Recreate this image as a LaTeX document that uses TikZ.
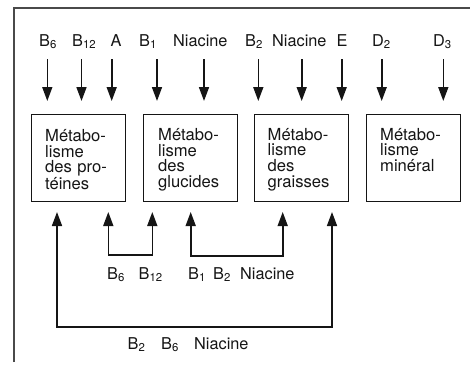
\documentclass[tikz,border=0pt]{standalone}
\usepackage{fontspec}
\setmainfont{TeX Gyre Heros}
\usetikzlibrary{arrows.meta}
\definecolor{ink}{HTML}{151515}
\definecolor{framec}{HTML}{4A4A4A}
\newcommand{\sbs}[1]{\textsubscript{#1}}
\begin{document}
\begin{tikzpicture}[x=1pt,y=-1pt,
  lab/.style={anchor=base west, inner sep=0pt, text=ink, font=\fontsize{16.3}{16}\selectfont},
  boxnode/.style={draw=ink, line width=1.3pt, minimum width=94pt, minimum height=87pt, anchor=north west, inner sep=0pt},
  boxtext/.style={anchor=base west, inner sep=0pt, text width=85pt, align=left, text=ink, font=\fontsize{16.6}{15.7}\selectfont},
  arr/.style={draw=ink, line width=1.6pt, -{Triangle[length=14pt,width=10pt]}},
  dbl/.style={draw=ink, line width=1.6pt, {Triangle[length=14pt,width=10pt]}-{Triangle[length=14pt,width=10pt]}}]
\useasboundingbox (0,0) rectangle (470,365);
% frame
\coordinate (fbl) at (14,362);
\coordinate (ftl) at (14,8);
\coordinate (ftr) at (470,8);
\draw[framec, line width=1.3pt] (fbl) -- (ftl) -- (ftr);
% top labels
\node[lab] (l1) at (39,46) {B\sbs{6}};
\node[lab] (l2) at (72,46) {B\sbs{12}};
\node[lab] (l3) at (110.5,46) {A};
\node[lab] (l4) at (139,46) {B\sbs{1}};
\node[lab] (l5) at (173,46) {Niacine};
\node[lab] (l6) at (245,46) {B\sbs{2}};
\node[lab] (l7) at (272,46) {Niacine};
\node[lab] (l8) at (336.5,46) {E};
\node[lab] (l9) at (372,46) {D\sbs{2}};
\node[lab] (l10) at (433,46) {D\sbs{3}};
% top arrows
\foreach \i/\x in {1/47.3,2/81.5,3/111.7,4/157,5/204,6/258.3,7/301.7,8/341.7,9/381.7,10/443.3}{
  \coordinate (ta\i) at (\x,59);
  \coordinate (tb\i) at (\x,101);
  \draw[arr] (ta\i) -- (tb\i);
}
% boxes
\node[boxnode] (b1) at (30.7,114) {};
\node[boxnode] (b2) at (142.5,114) {};
\node[boxnode] (b3) at (253.5,114) {};
\node[boxnode] (b4) at (365.5,114) {};
\node[boxtext] (t1) at (45,141.5) {Métabo-\\lisme\\des pro-\\téines};
\node[boxtext] (t2) at (158,140.5) {Métabo-\\lisme\\des\\glucides};
\node[boxtext] (t3) at (267.5,140) {Métabo-\\lisme\\des\\graisses};
\node[boxtext] (t4) at (380,140) {Métabo-\\lisme\\minéral};
% bottom arrows
\coordinate (u1) at (108.3,212);
\coordinate (u2) at (152.3,212);
\coordinate (u3) at (190.7,212);
\coordinate (u4) at (282.7,212);
\coordinate (u5) at (57,212);
\coordinate (u6) at (332,212);
\draw[dbl] (u1) -- ++(0,43) -| (u2);
\draw[dbl] (u3) -- ++(0,44) -| (u4);
\draw[dbl] (u5) -- ++(0,115) -| (u6);
% bottom labels
\node[lab] (m1) at (107,279) {B\sbs{6}};
\node[lab] (m2) at (138.5,279) {B\sbs{12}};
\node[lab] (m3) at (188,279) {B\sbs{1}};
\node[lab] (m4) at (213,279) {B\sbs{2}};
\node[lab] (m5) at (240,279) {Niacine};
\node[lab] (n1) at (127.5,349) {B\sbs{2}};
\node[lab] (n2) at (161,349) {B\sbs{6}};
\node[lab] (n3) at (194,349) {Niacine};
\end{tikzpicture}
\end{document}
